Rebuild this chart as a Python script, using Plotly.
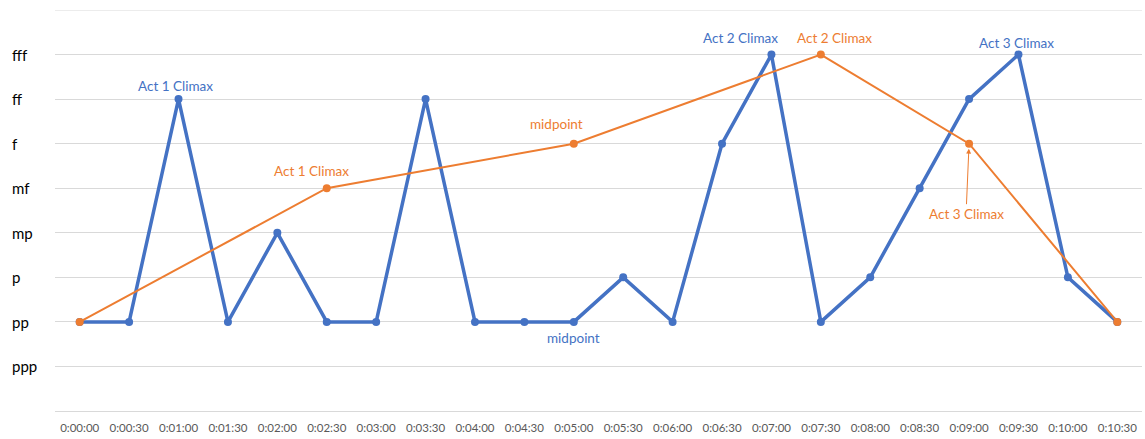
import plotly.graph_objects as go

# Dynamic levels, bottom to top
levels = ["ppp", "pp", "p", "mp", "mf", "f", "ff", "fff"]

# Time stamps (every 30 s)
times = ["0:00:00", "0:00:30", "0:01:00", "0:01:30", "0:02:00", "0:02:30",
         "0:03:00", "0:03:30", "0:04:00", "0:04:30", "0:05:00", "0:05:30",
         "0:06:00", "0:06:30", "0:07:00", "0:07:30", "0:08:00", "0:08:30",
         "0:09:00", "0:09:30", "0:10:00", "0:10:30"]

# Detailed dynamics curve
detail_dyn = ["pp", "pp", "ff", "pp", "mp", "pp", "pp", "ff", "pp", "pp", "pp",
              "p", "pp", "f", "fff", "pp", "p", "mf", "ff", "fff", "p", "pp"]

# Structural arc (key moments only)
arc_times = ["0:00:00", "0:02:30", "0:05:00", "0:07:30", "0:09:00", "0:10:30"]
arc_dyn = ["pp", "mf", "f", "fff", "f", "pp"]

BLUE = "#4472C4"
ORANGE = "#ED7D31"
GRID = "#D9D9D9"
FONT = "Lato"


def lvl(name):
    return levels.index(name) + 1


fig = go.Figure()

fig.add_trace(go.Scatter(
    x=times, y=[lvl(d) for d in detail_dyn], mode="lines+markers",
    line=dict(color=BLUE, width=3.5), marker=dict(color=BLUE, size=8),
    hoverinfo="skip", showlegend=False,
))
fig.add_trace(go.Scatter(
    x=arc_times, y=[lvl(d) for d in arc_dyn], mode="lines+markers",
    line=dict(color=ORANGE, width=2), marker=dict(color=ORANGE, size=8),
    hoverinfo="skip", showlegend=False,
))

# Point labels: (time, level, text, color, xshift, yshift)
point_labels = [
    ("0:01:00", "ff", "Act 1 Climax", BLUE, -3, 13),
    ("0:05:00", "pp", "midpoint", BLUE, 0, -16),
    ("0:07:00", "fff", "Act 2 Climax", BLUE, -31, 17),
    ("0:09:30", "fff", "Act 3 Climax", BLUE, -2, 12),
    ("0:02:30", "mf", "Act 1 Climax", ORANGE, -15, 17),
    ("0:05:00", "f", "midpoint", ORANGE, -17, 20),
    ("0:07:30", "fff", "Act 2 Climax", ORANGE, 14, 17),
]
annotations = []
for t, d, txt, col, dx, dy in point_labels:
    annotations.append(dict(
        x=t, y=lvl(d), xref="x", yref="y", text=txt, showarrow=False,
        xanchor="center", yanchor="middle", xshift=dx, yshift=dy,
        font=dict(family=FONT, size=13.5, color=col),
    ))

# Callout with arrow for the third act climax of the arc
annotations.append(dict(
    x="0:09:00", y=lvl("f"), xref="x", yref="y", text="Act 3 Climax",
    showarrow=True, arrowhead=2, arrowsize=1, arrowwidth=1, arrowcolor=ORANGE,
    ax=-3, ay=70, standoff=5, font=dict(family=FONT, size=13.5, color=ORANGE),
))

# Left-aligned dynamic labels on the y axis
for name in levels:
    annotations.append(dict(
        x=-0.0415, y=lvl(name), xref="paper", yref="y", text=name,
        showarrow=False, xanchor="left", yanchor="middle",
        font=dict(family=FONT, size=15, color="#000000"),
    ))

fig.update_layout(
    width=1145, height=439,
    margin=dict(l=55, r=3, t=10, b=28),
    paper_bgcolor="white", plot_bgcolor="white",
    annotations=annotations,
    # top gridline at the upper edge of the value range
    shapes=[dict(type="line", xref="paper", yref="y", x0=0, x1=1, y0=9, y1=9,
                 line=dict(color=GRID, width=1), layer="below")],
    xaxis=dict(
        type="category", categoryorder="array", categoryarray=times,
        range=[-0.5, len(times) - 0.5], showgrid=False, showline=False,
        zeroline=False, ticks="", ticklabelstandoff=8,
        tickfont=dict(family=FONT, size=11.5, color="#595959"),
    ),
    yaxis=dict(
        range=[0, 9], tickvals=list(range(0, 10)), showticklabels=False,
        showgrid=True, gridcolor=GRID, gridwidth=1,
        zeroline=True, zerolinecolor=GRID, zerolinewidth=1,
        showline=False, ticks="",
    ),
)

fig.write_html("out.html")
